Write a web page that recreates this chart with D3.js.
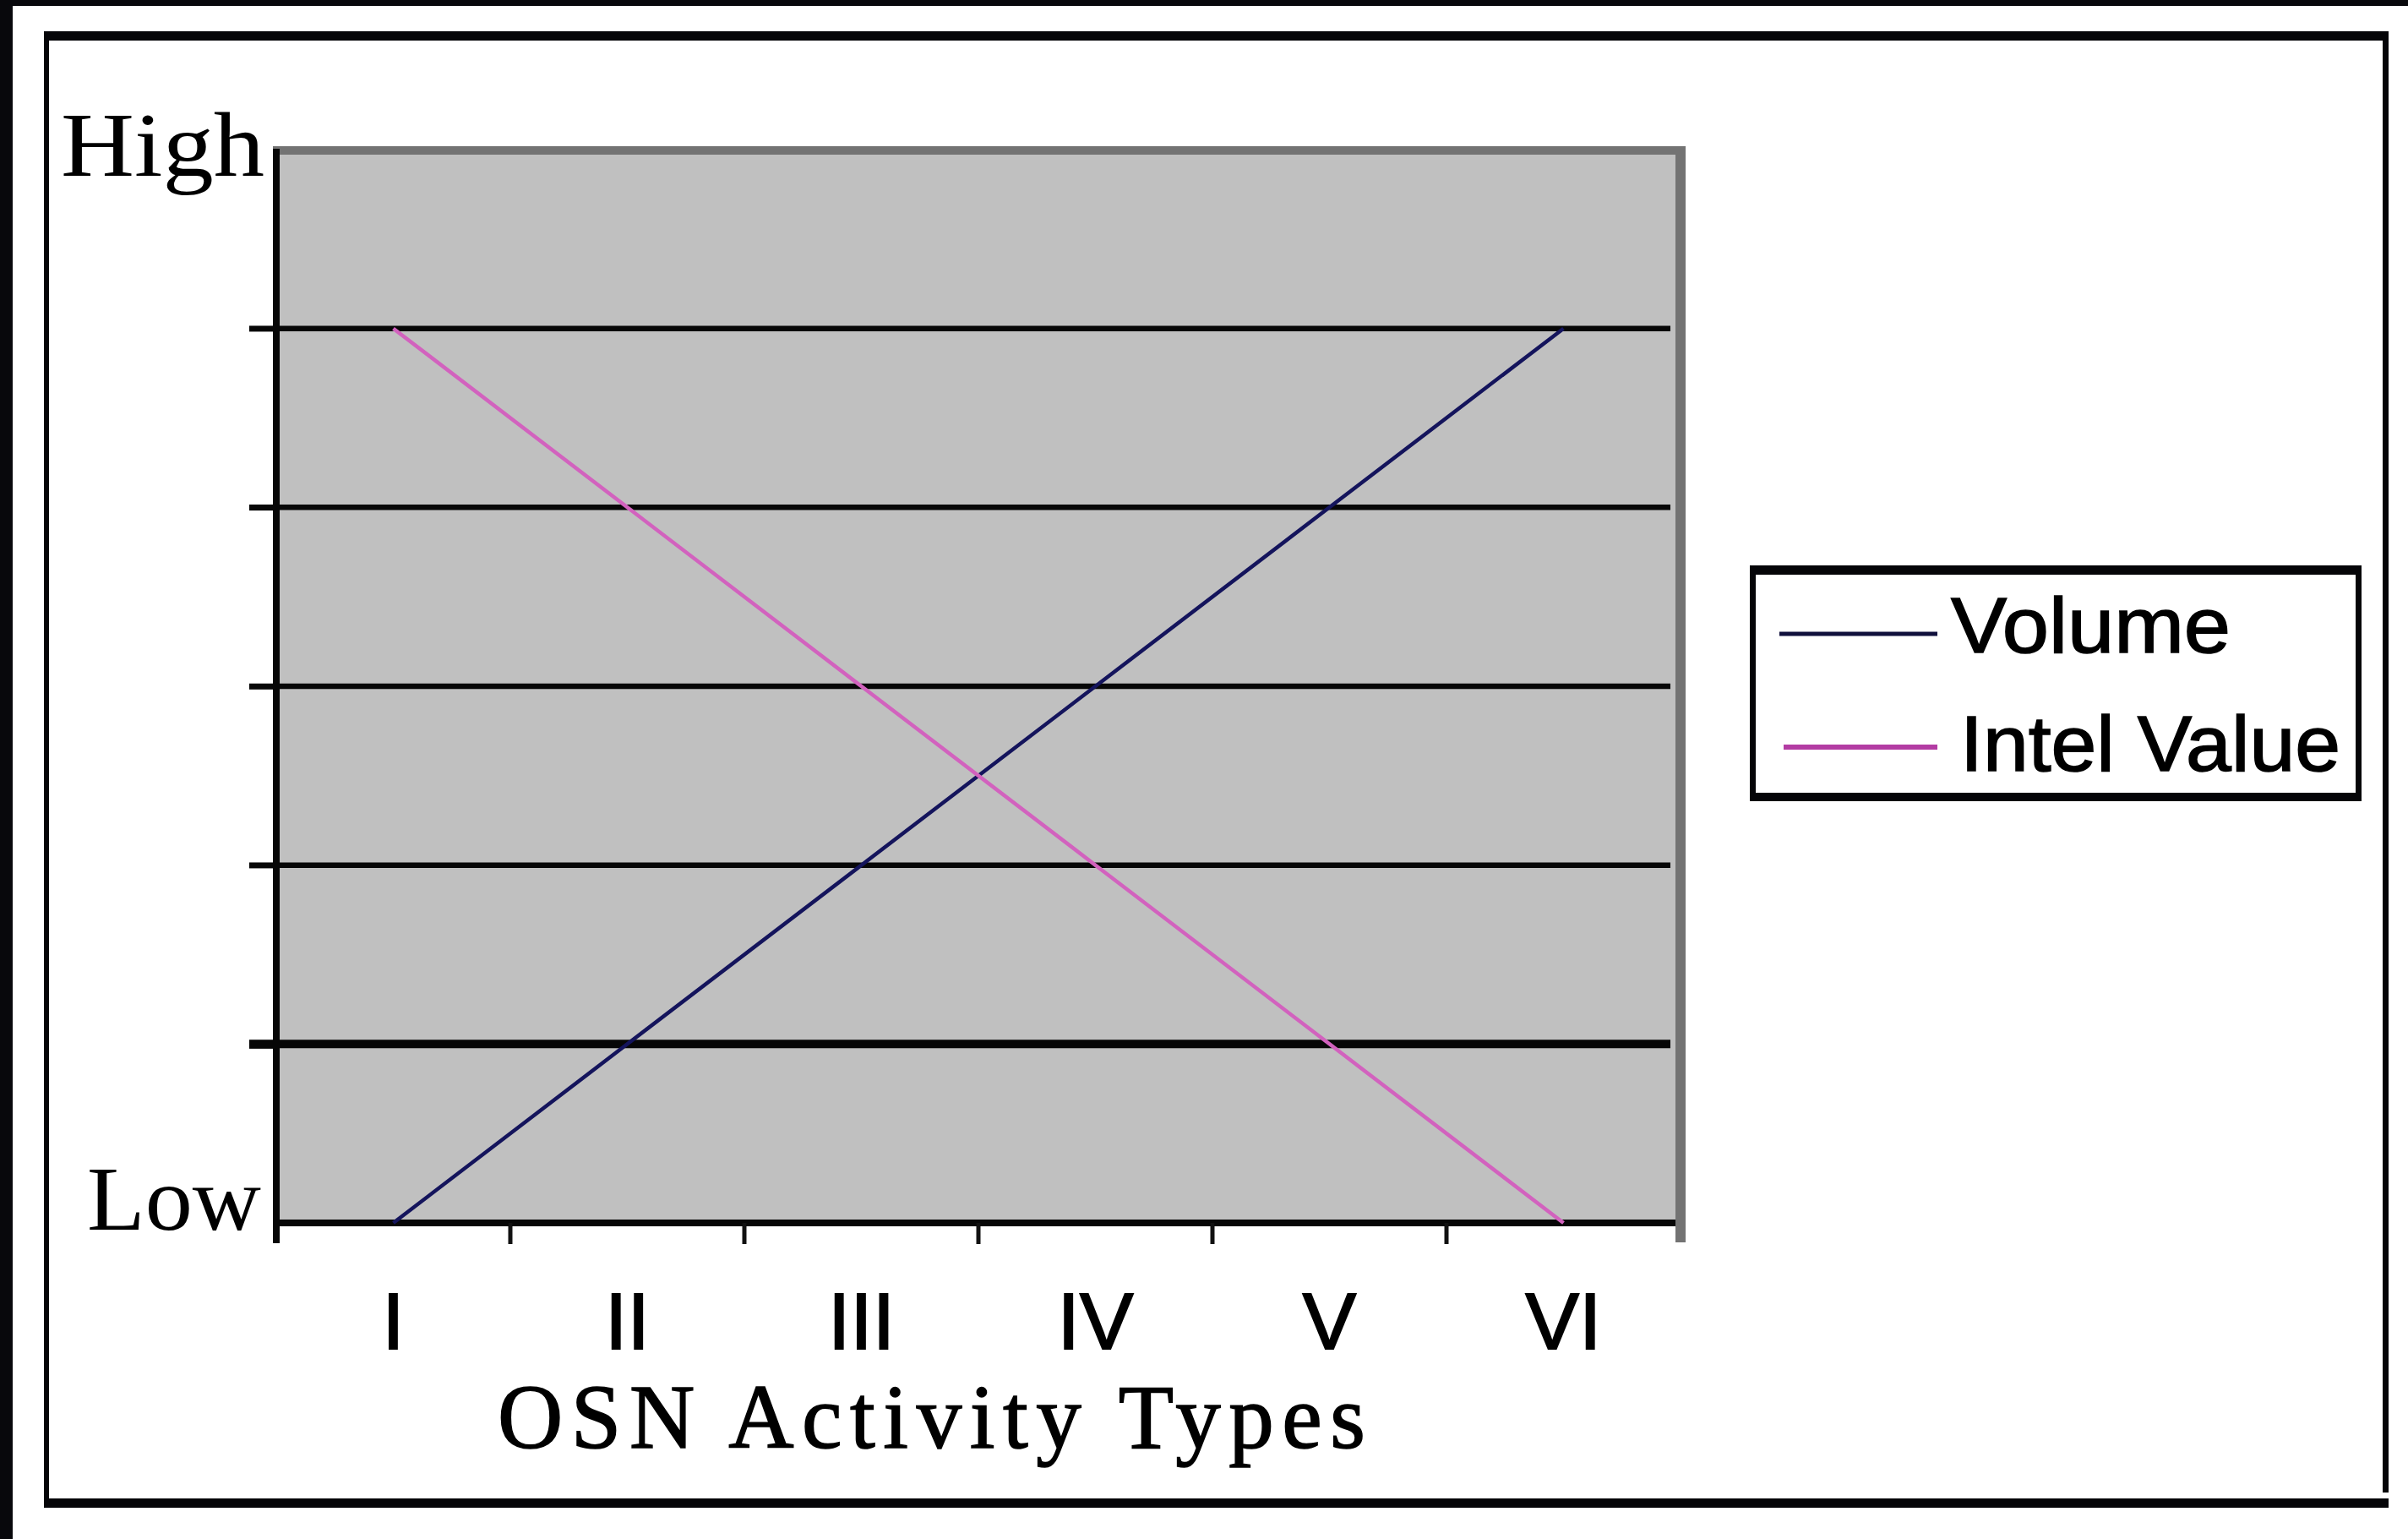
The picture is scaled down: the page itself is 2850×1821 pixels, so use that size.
<!DOCTYPE html>
<html>
<head>
<meta charset="utf-8">
<script src="https://cdn.jsdelivr.net/npm/d3@7"></script>
<style>
  html, body { margin: 0; padding: 0; background: #ffffff; }
  svg { display: block; }
</style>
</head>
<body>
<script>
// ---- data ----
const categories = ["I", "II", "III", "IV", "V", "VI"];
const volume = [0, 1, 2, 3, 4, 5];
const intelValue = [5, 4, 3, 2, 1, 0];
const yTicks = [1, 2, 3, 4, 5];
const yEndLabels = ["Low", "High"];
const seriesNames = ["Volume", "Intel Value"];
const xTitle = "OSN Activity Types";

// ---- layout ----
const W = 2850, H = 1821;
const serif = "'Liberation Serif', 'Times New Roman', serif";
const sans = "'Liberation Sans', Arial, sans-serif";

const svg = d3.select("body").append("svg")
  .attr("width", W).attr("height", H).attr("viewBox", `0 0 ${W} ${H}`);

svg.append("rect").attr("width", W).attr("height", H).attr("fill", "#ffffff");

// outer dark strips (scan edge)
svg.append("rect").attr("x", 0).attr("y", 0).attr("width", W).attr("height", 7).attr("fill", "#08080c");
svg.append("rect").attr("x", 0).attr("y", 0).attr("width", 15).attr("height", H).attr("fill", "#08080c");

// outer frame
const frame = svg.append("g").attr("fill", "#050508");
frame.append("rect").attr("x", 52).attr("y", 37).attr("width", 2775).attr("height", 11);
frame.append("rect").attr("x", 52).attr("y", 37).attr("width", 6).attr("height", 1747);
frame.append("rect").attr("x", 2820).attr("y", 37).attr("width", 7).attr("height", 1729);
frame.append("rect").attr("x", 58).attr("y", 1773).attr("width", 2769).attr("height", 11);

// scales
const x = d3.scaleBand().domain(categories).range([327, 1989]).padding(0);
const xc = d => x(d) + x.bandwidth() / 2;
const y = d3.scaleLinear().domain([0, 6]).range([1447, 177]);

// plot area
const plotLeft = x.range()[0], plotRight = 1983;
svg.append("rect").attr("x", plotLeft).attr("y", y(6))
  .attr("width", plotRight - plotLeft).attr("height", y(0) - y(6)).attr("fill", "#c0c0c0");
// gray top and right border
svg.append("rect").attr("x", plotLeft - 4).attr("y", 173).attr("width", 1995 - plotLeft + 4).attr("height", 10).attr("fill", "#737373");
svg.append("rect").attr("x", plotRight).attr("y", 173).attr("width", 12).attr("height", 1470 - 173).attr("fill", "#737373");

// gridlines
svg.append("g").selectAll("line").data(yTicks).join("line")
  .attr("x1", 295).attr("x2", 1977)
  .attr("y1", d => y(d)).attr("y2", d => y(d))
  .attr("stroke", "#070707")
  .attr("stroke-width", d => d === 1 ? 10 : 6.5);

// y axis (left)
const yAxis = d3.axisLeft(y).tickValues(yTicks).tickSize(32).tickSizeOuter(0).tickFormat("");
const gy = svg.append("g").attr("transform", `translate(${plotLeft},0)`).call(yAxis);
gy.select(".domain").remove();
gy.selectAll(".tick line").attr("stroke", "#070707").attr("stroke-width", d => d === 1 ? 10 : 6.5);
svg.append("line").attr("x1", plotLeft).attr("x2", plotLeft).attr("y1", 176).attr("y2", 1471)
  .attr("stroke", "#070707").attr("stroke-width", 8);

// x axis
svg.append("line").attr("x1", plotLeft - 4).attr("x2", plotRight).attr("y1", y(0)).attr("y2", y(0))
  .attr("stroke", "#070707").attr("stroke-width", 8);
svg.append("g").selectAll("line").data(categories.slice(1)).join("line")
  .attr("x1", d => x(d)).attr("x2", d => x(d))
  .attr("y1", y(0)).attr("y2", 1472)
  .attr("stroke", "#111111").attr("stroke-width", 5);

// category labels
svg.append("g").selectAll("text").data(categories).join("text")
  .attr("x", d => xc(d)).attr("y", 1596)
  .attr("text-anchor", "middle")
  .attr("font-family", sans).attr("font-size", 95)
  .attr("fill", "#000").attr("stroke", "#000").attr("stroke-width", 2)
  .text(d => d);

// axis title
svg.append("text").attr("x", 589).attr("y", 1713)
  .attr("font-family", serif).attr("font-size", 107)
  .attr("textLength", 1027).attr("lengthAdjust", "spacing")
  .attr("fill", "#000").attr("stroke", "#000").attr("stroke-width", 1.5)
  .text(xTitle);

// Low / High
svg.append("text").attr("x", 103).attr("y", 1455)
  .attr("font-family", serif).attr("font-size", 107)
  .attr("textLength", 206).attr("lengthAdjust", "spacingAndGlyphs")
  .attr("fill", "#000").text(yEndLabels[0]);
svg.append("text").attr("x", 72).attr("y", 208)
  .attr("font-family", serif).attr("font-size", 107)
  .attr("textLength", 241).attr("lengthAdjust", "spacingAndGlyphs")
  .attr("fill", "#000").text(yEndLabels[1]);

// series lines
const colors = ["#14145c", "#d262be"];
const swatchColors = ["#10103c", "#b33ca3"];
const series = [volume, intelValue];
const line = d3.line().x((d, i) => xc(categories[i])).y(d => y(d));
svg.append("g").selectAll("path").data(series).join("path")
  .attr("d", d => line(d))
  .attr("fill", "none")
  .attr("stroke", (d, i) => colors[i])
  .attr("stroke-width", 4.5);

// legend
const lg = svg.append("g");
lg.append("rect").attr("x", 2074).attr("y", 669).attr("width", 721).attr("height", 279).attr("fill", "#fff");
lg.append("rect").attr("x", 2071).attr("y", 669).attr("width", 724).attr("height", 11).attr("fill", "#050508");
lg.append("rect").attr("x", 2071).attr("y", 938).attr("width", 724).attr("height", 10).attr("fill", "#050508");
lg.append("rect").attr("x", 2071).attr("y", 669).attr("width", 7).attr("height", 279).attr("fill", "#050508");
lg.append("rect").attr("x", 2788).attr("y", 669).attr("width", 7).attr("height", 279).attr("fill", "#050508");

const legendRows = [
  { sw: [2106, 2293], sy: 750, tx: 2309, ty: 772, tl: 331 },
  { sw: [2111, 2293], sy: 884, tx: 2320, ty: 912, tl: 450 }
];
seriesNames.forEach((name, i) => {
  const r = legendRows[i];
  lg.append("line").attr("x1", r.sw[0]).attr("x2", r.sw[1]).attr("y1", r.sy).attr("y2", r.sy)
    .attr("stroke", swatchColors[i]).attr("stroke-width", i === 0 ? 5 : 6);
  lg.append("text").attr("x", r.tx).attr("y", r.ty)
    .attr("font-family", sans).attr("font-size", 92)
    .attr("textLength", r.tl).attr("lengthAdjust", "spacingAndGlyphs")
    .attr("fill", "#000").attr("stroke", "#000").attr("stroke-width", 1.5)
    .text(name);
});
</script>
</body>
</html>
